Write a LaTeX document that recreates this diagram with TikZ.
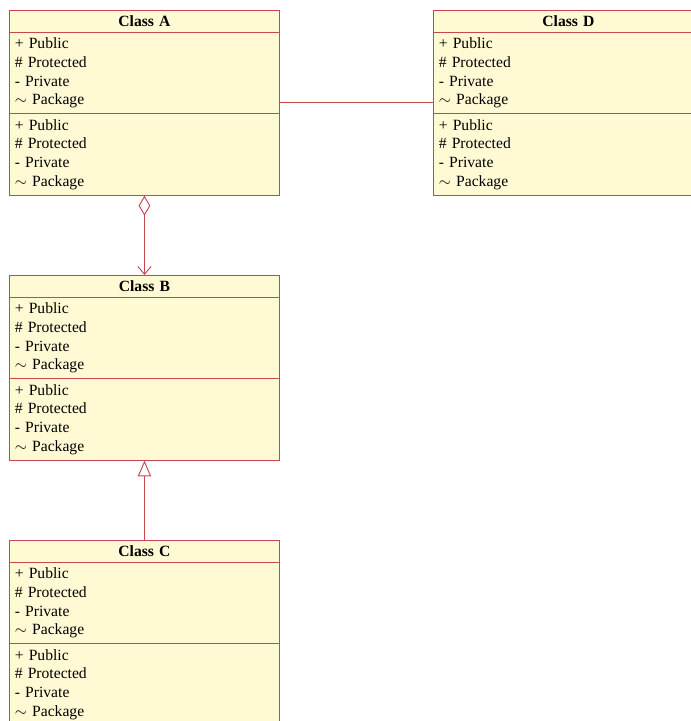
\documentclass[tikz,border=0pt]{standalone}
\usepackage{fontspec}
\setmainfont{Liberation Serif}
\usetikzlibrary{shapes.multipart,arrows.meta}
\definecolor{umlred}{RGB}{200,70,80}
\definecolor{umlfill}{RGB}{255,250,212}

\tikzset{
  umlclass/.style={rectangle split, rectangle split parts=3, draw=umlred, fill=umlfill,
    line width=0.6pt, text width=166pt, inner xsep=3.4pt, inner ysep=3.2pt,
    align=left, anchor=north west, font=\fontsize{10}{12}\selectfont},
  umlline/.style={draw=umlred, line width=0.6pt},
}
\newcommand{\classtitle}[1]{\makebox[\hsize][c]{\textbf{#1}}}
\newcommand{\classmembers}{+ Public\\ \# Protected\\ - Private\\ $\sim$ Package}

\begin{document}
\begin{tikzpicture}[x=0.64pt, y=-0.64pt]
    \useasboundingbox (0,0) rectangle (691,721);

    % classes
    \node[umlclass] (A) at (9,10) {\classtitle{Class A}
        \nodepart{second}\classmembers\nodepart{third}\classmembers};
    \node[umlclass] (D) at (433,10) {\classtitle{Class D}
        \nodepart{second}\classmembers\nodepart{third}\classmembers};
    \node[umlclass] (B) at (9,275) {\classtitle{Class B}
        \nodepart{second}\classmembers\nodepart{third}\classmembers};
    \node[umlclass] (C) at (9,540) {\classtitle{Class C}
        \nodepart{second}\classmembers\nodepart{third}\classmembers};

    % relations
    \draw[umlline] (A.east) -- (D.west);
    \draw[umlline, {Diamond[open, length=12.8pt, width=7.5pt]}-{Straight Barb[length=5pt, width=8.5pt]}]
        (A.south) -- (B.north);
    \draw[umlline, -{Triangle[open, length=10pt, width=8.5pt]}] (C.north) -- (B.south);
\end{tikzpicture}
\end{document}
